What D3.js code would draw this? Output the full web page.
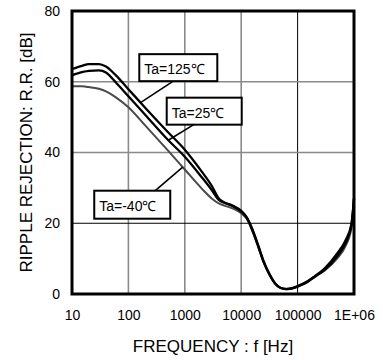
<!DOCTYPE html>
<html lang="en">
<head>
<meta charset="UTF-8">
<title>Ripple Rejection vs Frequency</title>
<style>
    body { margin: 0; background: #fff; }
    svg { display: block; font-family: "Liberation Sans", Arial, sans-serif; }
</style>
<script src="https://d3js.org/d3.v7.min.js"></script>
</head>
<body>
<div id="chart"></div>
<script>
const width = 383;
const height = 360;
const margin = { top: 11, right: 29, bottom: 66, left: 72 };

// frequency points [Hz]
const freqs = [10, 15, 20, 30, 40, 60, 100, 200, 500, 1000, 2000, 3000, 4000, 5000, 7000,
    10000, 12600, 15800, 20000, 25000, 31600, 40000, 50000, 63000, 80000,
    100000, 150000, 200000, 300000, 500000, 700000, 900000, 1000000];

// ripple rejection [dB] for each temperature
const rr125 = [63.6, 64.5, 65.0, 65.0, 64.3, 61.8, 57.9, 52.6, 45.8, 40.8, 34.6, 30.6, 27.0, 25.9, 25.0,
    23.5, 21.6, 18.3, 13.8, 9.3, 5.7, 3.0, 1.7, 1.4, 1.6,
    2.2, 3.6, 5.0, 7.2, 11.4, 15.0, 19.8, 27.0];
const rr25 = [61.8, 62.7, 63.1, 63.2, 62.6, 59.8, 55.9, 50.6, 43.6, 38.8, 33.0, 29.4, 26.6, 25.8, 24.9,
    23.3, 21.5, 18.0, 13.5, 9.0, 5.5, 2.9, 1.7, 1.4, 1.6,
    2.1, 3.4, 4.8, 6.8, 10.6, 14.2, 19.4, 27.0];
const rrM40 = [58.7, 58.7, 58.5, 58.0, 57.3, 55.6, 52.8, 47.6, 40.6, 35.2, 29.8, 27.0, 25.6, 25.0, 24.2,
    22.8, 21.2, 17.8, 13.4, 9.0, 5.6, 3.0, 1.8, 1.5, 1.7,
    2.3, 3.6, 4.9, 6.6, 10.0, 13.4, 18.6, 27.0];

const seriesNames = ["Ta=125℃", "Ta=25℃", "Ta=-40℃"];

const xTicks = [10, 100, 1000, 10000, 100000, 1000000];
const xTickLabels = ["10", "100", "1000", "10000", "100000", "1E+06"];
const yTicks = [0, 20, 40, 60, 80];

const plotW = width - margin.left - margin.right;
const plotH = height - margin.top - margin.bottom;

const x = d3.scaleLog().domain([10, 1000000]).range([0, plotW]);
const y = d3.scaleLinear().domain([0, 80]).range([plotH, 0]);

const svg = d3.select("#chart")
    .append("svg")
    .attr("width", width)
    .attr("height", height);

const g = svg.append("g")
    .attr("transform", `translate(${margin.left},${margin.top})`);

// grid - some lines come out grey in the original, some black
const grey = "#8a8a8a";
const vGridColor = { 100: grey, 1000: grey, 10000: grey, 100000: "#000" };
const hGridColor = { 20: "#000", 40: grey, 60: grey };

g.append("g")
    .selectAll("line")
    .data(xTicks.slice(1, -1))
    .enter().append("line")
    .attr("x1", d => x(d)).attr("x2", d => x(d))
    .attr("y1", 0).attr("y2", plotH)
    .attr("stroke", d => vGridColor[d])
    .attr("stroke-width", d => vGridColor[d] === grey ? 1.6 : 1);

g.append("g")
    .selectAll("line")
    .data(yTicks.slice(1, -1))
    .enter().append("line")
    .attr("x1", 0).attr("x2", plotW)
    .attr("y1", d => y(d)).attr("y2", d => y(d))
    .attr("stroke", d => hGridColor[d])
    .attr("stroke-width", d => hGridColor[d] === grey ? 1.6 : 1);

// curves
const series = [
    { name: seriesNames[0], values: rr125, color: "#000", w: 2.3 },
    { name: seriesNames[1], values: rr25, color: "#000", w: 2.3 },
    { name: seriesNames[2], values: rrM40, color: "#4a4a4a", w: 2.0 }
];

const line = d3.line()
    .x(d => x(d[0]))
    .y(d => y(d[1]))
    .curve(d3.curveMonotoneX);

g.append("g")
    .selectAll("path")
    .data(series.slice().reverse())
    .enter().append("path")
    .attr("fill", "none")
    .attr("stroke", d => d.color)
    .attr("stroke-width", d => d.w)
    .attr("stroke-linejoin", "round")
    .attr("d", d => line(freqs.map((f, i) => [f, d.values[i]])));

// frame
g.append("rect")
    .attr("width", plotW)
    .attr("height", plotH)
    .attr("fill", "none")
    .attr("stroke", "#000")
    .attr("stroke-width", 3);

// axes
const xAxis = d3.axisBottom(x)
    .tickValues(xTicks)
    .tickFormat((d, i) => xTickLabels[i])
    .tickSize(0)
    .tickPadding(16);

const yAxis = d3.axisLeft(y)
    .tickValues(yTicks)
    .tickSize(0)
    .tickPadding(12);

g.append("g")
    .attr("transform", `translate(0,${plotH})`)
    .call(xAxis)
    .call(a => a.select(".domain").remove())
    .selectAll("text")
    .attr("font-size", 14)
    .attr("font-family", "Liberation Sans, Arial, sans-serif")
    .attr("fill", "#000");

g.append("g")
    .call(yAxis)
    .call(a => a.select(".domain").remove())
    .selectAll("text")
    .attr("font-size", 14)
    .attr("font-family", "Liberation Sans, Arial, sans-serif")
    .attr("fill", "#000");

// axis titles
svg.append("text")
    .attr("x", margin.left + plotW / 2)
    .attr("y", 351.5)
    .attr("text-anchor", "middle")
    .attr("font-size", 17)
    .text("FREQUENCY : f [Hz]");

svg.append("text")
    .attr("transform", `translate(31.5,${margin.top + plotH / 2}) rotate(-90)`)
    .attr("text-anchor", "middle")
    .attr("font-size", 17)
    .text("RIPPLE REJECTION: R.R. [dB]");

// label boxes with leader lines to the curves
// box: top-left corner in data units; leader goes from box edge to curve at freq "at"
const labels = [
    { s: 0, fx: 156, fy: 67.8, w: 78, h: 27, side: "bottom", off: 34, at: 164 },
    { s: 1, fx: 478, fy: 55.5, w: 75, h: 27, side: "bottom", off: 27, at: 509 },
    { s: 2, fx: 24.8, fy: 29.2, w: 76, h: 28, side: "top", off: 61, at: 918 }
];

// value of a series at any frequency (linear in log f)
function valueAt(values, f) {
    const lf = Math.log10(f);
    for (let i = 1; i < freqs.length; i++) {
        const a = Math.log10(freqs[i - 1]), b = Math.log10(freqs[i]);
        if (lf <= b) {
            const t = (lf - a) / (b - a);
            return values[i - 1] + t * (values[i] - values[i - 1]);
        }
    }
    return values[values.length - 1];
}

const lab = g.append("g");
labels.forEach(l => {
    const bx = x(l.fx), by = y(l.fy);
    const sx = bx + l.off;
    const sy = l.side === "bottom" ? by + l.h : by;
    lab.append("line")
        .attr("x1", sx).attr("y1", sy)
        .attr("x2", x(l.at)).attr("y2", y(valueAt(series[l.s].values, l.at)))
        .attr("stroke", "#000")
        .attr("stroke-width", 1.6);
    lab.append("rect")
        .attr("x", bx).attr("y", by)
        .attr("width", l.w).attr("height", l.h)
        .attr("fill", "#fff")
        .attr("stroke", "#000")
        .attr("stroke-width", 2);
    lab.append("text")
        .attr("x", bx + 5)
        .attr("y", by + 20)
        .attr("font-size", 14)
        .text(series[l.s].name);
});
</script>
</body>
</html>
